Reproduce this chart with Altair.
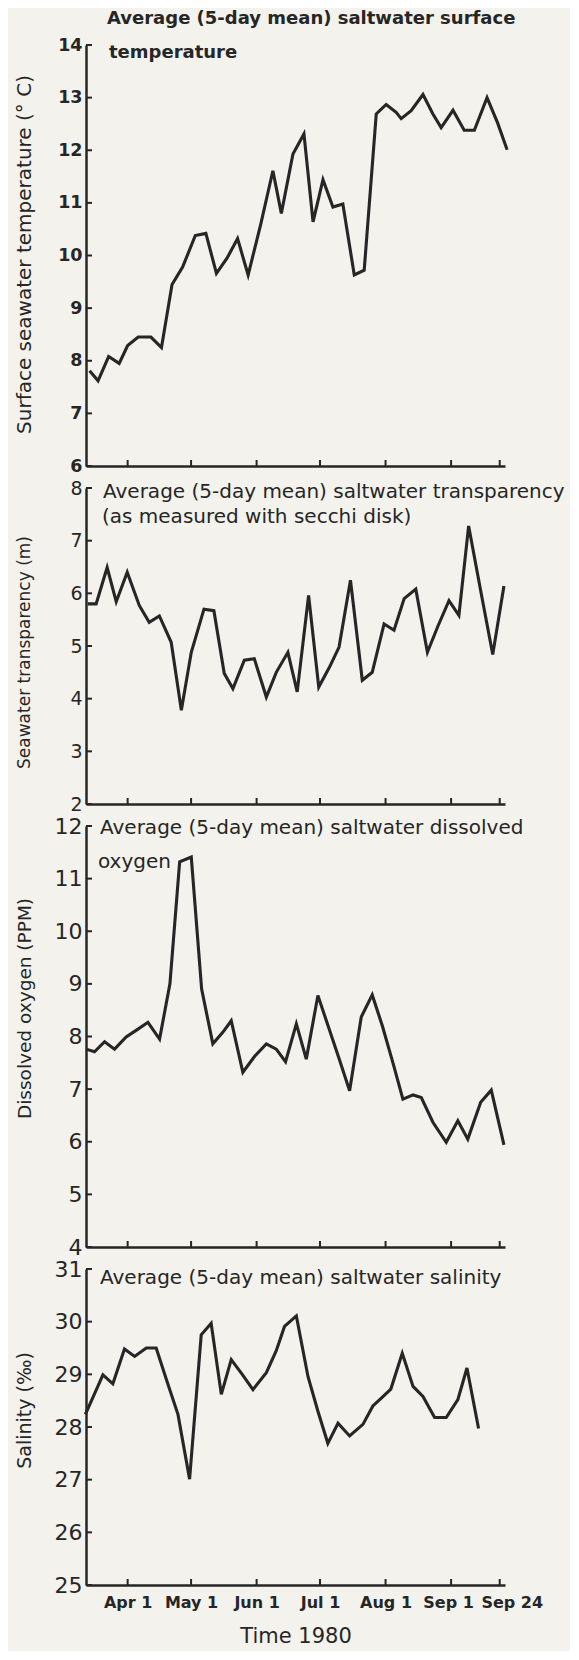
import altair as alt
import pandas as pd

# ---------------- data ----------------
# x = day counted from 1 March 1980 (Apr 1 = 31 ... Sep 24 = 207)
TICK_DAYS = [31, 61, 92, 122, 153, 184, 207]
TICK_LABELS = ["Apr 1", "May 1", "Jun 1", "Jul 1", "Aug 1", "Sep 1", "Sep 24"]

TEMP_DAY = [13, 17, 22, 27, 31, 36, 42, 47, 52, 57, 63, 68, 73, 78, 83, 88, 94,
            99.7, 103.7, 109.2, 114.4, 118.7, 123.4, 128.1, 132.8, 138.2, 142.9,
            148.6, 153.3, 158, 160.4, 165.1, 170.7, 175.4, 179.3, 184.9, 190.2,
            195, 201, 206, 210.5]
TEMP_VAL = [7.81, 7.62, 8.08, 7.95, 8.29, 8.45, 8.45, 8.25, 9.45, 9.78, 10.38,
            10.42, 9.66, 9.95, 10.32, 9.63, 10.6, 11.61, 10.8, 11.93, 12.31,
            10.64, 11.44, 10.92, 10.98, 9.63, 9.72, 12.69, 12.87, 12.72, 12.6,
            12.75, 13.06, 12.69, 12.43, 12.76, 12.38, 12.38, 13.0, 12.52, 12.01]

TR_DAY = [12.2, 16.1, 21.3, 25.6, 30.8, 36.5, 41.2, 46, 51.6, 56.4, 61.1, 67.1,
          71.8, 76.7, 80.8, 86.2, 90.9, 96.6, 101.3, 106.8, 111.2, 116.6, 121.4,
          126.5, 131, 136.4, 142, 146.7, 152.3, 157, 161.8, 167.3, 172.8, 177.8,
          183, 187.7, 192.3, 198, 203.7, 209]
TR_VAL = [5.8, 5.8, 6.49, 5.84, 6.4, 5.77, 5.45, 5.57, 5.07, 3.78, 4.88, 5.7,
          5.67, 4.48, 4.19, 4.73, 4.76, 4.03, 4.5, 4.88, 4.13, 5.96, 4.22, 4.6,
          4.98, 6.25, 4.35, 4.5, 5.42, 5.3, 5.9, 6.08, 4.88, 5.38, 5.86, 5.58,
          7.28, 6.05, 4.84, 6.14]

OX_DAY = [11.4, 15.3, 20.1, 24.8, 30.3, 35.9, 40.6, 46.1, 51, 55.6, 61.1, 66,
          71.3, 76, 80, 85.5, 91, 96.6, 101.3, 105.7, 110.8, 115.5, 121, 126,
          131, 136, 141.5, 146.7, 151.5, 156.5, 161.2, 166, 169.9, 175.4, 181.7,
          187.2, 191.9, 198, 203, 209]
OX_VAL = [7.76, 7.71, 7.9, 7.76, 7.99, 8.14, 8.27, 7.95, 9.0, 11.32, 11.41, 8.9,
          7.86, 8.08, 8.3, 7.32, 7.62, 7.86, 7.76, 7.52, 8.24, 7.57, 8.78, 8.18,
          7.58, 6.97, 8.37, 8.79, 8.2, 7.5, 6.81, 6.89, 6.84, 6.37, 5.99, 6.4,
          6.05, 6.75, 6.98, 5.94]

SAL_DAY = [11, 15, 19.3, 24, 29.5, 34.3, 39.8, 44.5, 49.6, 54.8, 60.3, 65.8,
           70.5, 75.3, 80, 85.2, 90.3, 96.6, 101.3, 105.2, 110.8, 116.3, 121,
           125.7, 130.5, 136, 142.3, 147, 151, 155.5, 160.9, 166, 170.7, 176.2,
           181.7, 187.2, 191.5, 197]
SAL_VAL = [28.24, 28.6, 28.99, 28.82, 29.48, 29.34, 29.5, 29.5, 28.87, 28.24,
           27.01, 29.75, 29.97, 28.62, 29.28, 29.0, 28.71, 29.03, 29.45, 29.91,
           30.11, 28.96, 28.3, 27.69, 28.07, 27.83, 28.05, 28.4, 28.55, 28.72,
           29.4, 28.77, 28.58, 28.18, 28.18, 28.52, 29.12, 27.97]

TEMP_TICKS = [6, 7, 8, 9, 10, 11, 12, 13, 14]
TR_TICKS = [2, 3, 4, 5, 6, 7, 8]
OX_TICKS = [4, 5, 6, 7, 8, 9, 10, 11, 12]
SAL_TICKS = [25, 26, 27, 28, 29, 30, 31]

# ---------------- styling ----------------
INK = "#262626"
BG = "#f3f2ed"
FONT = "DejaVu Sans"
X0, X1 = 11.3, 209.5
W = 419

label_expr = " : ".join(
    f"datum.value == {d} ? '{t}'" for d, t in zip(TICK_DAYS, TICK_LABELS)
) + " : ''"


def panel(days, vals, yticks, height, titles, title_weight, title_size,
          ytitle, ytitle_size, ytitle_y, lab_size, lab_weight, bottom=False):
    xscale = alt.Scale(domain=[X0, X1], nice=False, zero=False)
    yscale = alt.Scale(domain=[yticks[0], yticks[-1]], nice=False, zero=False)
    if bottom:
        xaxis = alt.Axis(values=TICK_DAYS, labelExpr=label_expr, ticks=False,
                         tickSize=0, labelFont=FONT, labelFontSize=16,
                         labelFontWeight="bold", labelColor=INK, labelPadding=9,
                         labelOffset={"condition": [
                             {"test": f"datum.value == {TICK_DAYS[-1]}", "value": 12},
                             {"test": f"datum.value == {TICK_DAYS[-2]}", "value": -3}],
                             "value": 0},
                         labelFlush=False, labelOverlap=False, grid=False,
                         domainColor=INK, domainWidth=2.5,
                         title="Time 1980", titleFont=FONT, titleFontSize=21,
                         titleFontWeight="normal", titleColor=INK,
                         titlePadding=15)
    else:
        xaxis = alt.Axis(values=TICK_DAYS, labels=False, ticks=False,
                         tickSize=0, grid=False, domainColor=INK,
                         domainWidth=2.5, title="")
    yaxis = alt.Axis(values=yticks, format="d", ticks=False, tickSize=0,
                     labelFont=FONT, labelFontSize=lab_size,
                     labelFontWeight=lab_weight, labelColor=INK,
                     labelPadding=4, labelOverlap=False, grid=False,
                     domainColor=INK, domainWidth=2.5,
                     title=ytitle, titleFont=FONT, titleFontSize=ytitle_size,
                     titleFontWeight="normal", titleColor=INK, titleAngle=270,
                     titleAlign="center", titleBaseline="middle",
                     titleX=-62, titleY=ytitle_y)

    x_enc = alt.X("day:Q", scale=xscale, axis=xaxis)
    y_enc = alt.Y("value:Q", scale=yscale, axis=yaxis)

    df = pd.DataFrame({"day": days, "value": vals})
    line = alt.Chart(df).mark_line(color=INK, strokeWidth=3.1).encode(
        x=x_enc, y=y_enc)

    xt = alt.Chart(pd.DataFrame({"day": TICK_DAYS})).mark_rule(
        color=INK, strokeWidth=2).encode(
        x=x_enc, y=alt.value(height), y2=alt.value(height - 6))
    yt = alt.Chart(pd.DataFrame({"value": yticks})).mark_rule(
        color=INK, strokeWidth=2).encode(
        y=y_enc, x=alt.value(0), x2=alt.value(6))

    layers = [line, xt, yt]
    for text, tx, ty in titles:
        layers.append(
            alt.Chart(pd.DataFrame({"t": [text]})).mark_text(
                font=FONT, fontSize=title_size, fontWeight=title_weight,
                color=INK, align="left", baseline="middle").encode(
                text="t:N", x=alt.value(tx), y=alt.value(ty)))
    return alt.layer(*layers).properties(width=W, height=height)


p1 = panel(TEMP_DAY, TEMP_VAL, TEMP_TICKS, 421,
           [("Average (5-day mean) saltwater surface", 21, -26),
            ("temperature", 23, 8)],
           "bold", 18, "Surface seawater temperature (° C)", 20, 209,
           17.5, "bold")
p2 = panel(TR_DAY, TR_VAL, TR_TICKS, 316,
           [("Average (5-day mean) saltwater transparency", 17, 4),
            ("(as measured with secchi disk)", 16, 29)],
           "normal", 20, "Seawater transparency (m)", 17, 164,
           19, "normal")
p3 = panel(OX_DAY, OX_VAL, OX_TICKS, 421,
           [("Average (5-day mean) saltwater dissolved", 14, 2),
            ("oxygen", 12, 36)],
           "normal", 20, "Dissolved oxygen (PPM)", 18.5, 182,
           22, "normal")
p4 = panel(SAL_DAY, SAL_VAL, SAL_TICKS, 316,
           [("Average (5-day mean) saltwater salinity", 14, 9)],
           "normal", 20, "Salinity (‰)", 19, 141,
           22, "normal", bottom=True)

chart = alt.vconcat(p1, p2, p3, p4, spacing=22, bounds="flush").properties(
    background=BG,
    padding={"left": 5, "top": 2, "right": 5, "bottom": 5},
).configure_view(strokeWidth=0)

chart.save("out.html", embed_options={"renderer": "svg", "actions": False})
